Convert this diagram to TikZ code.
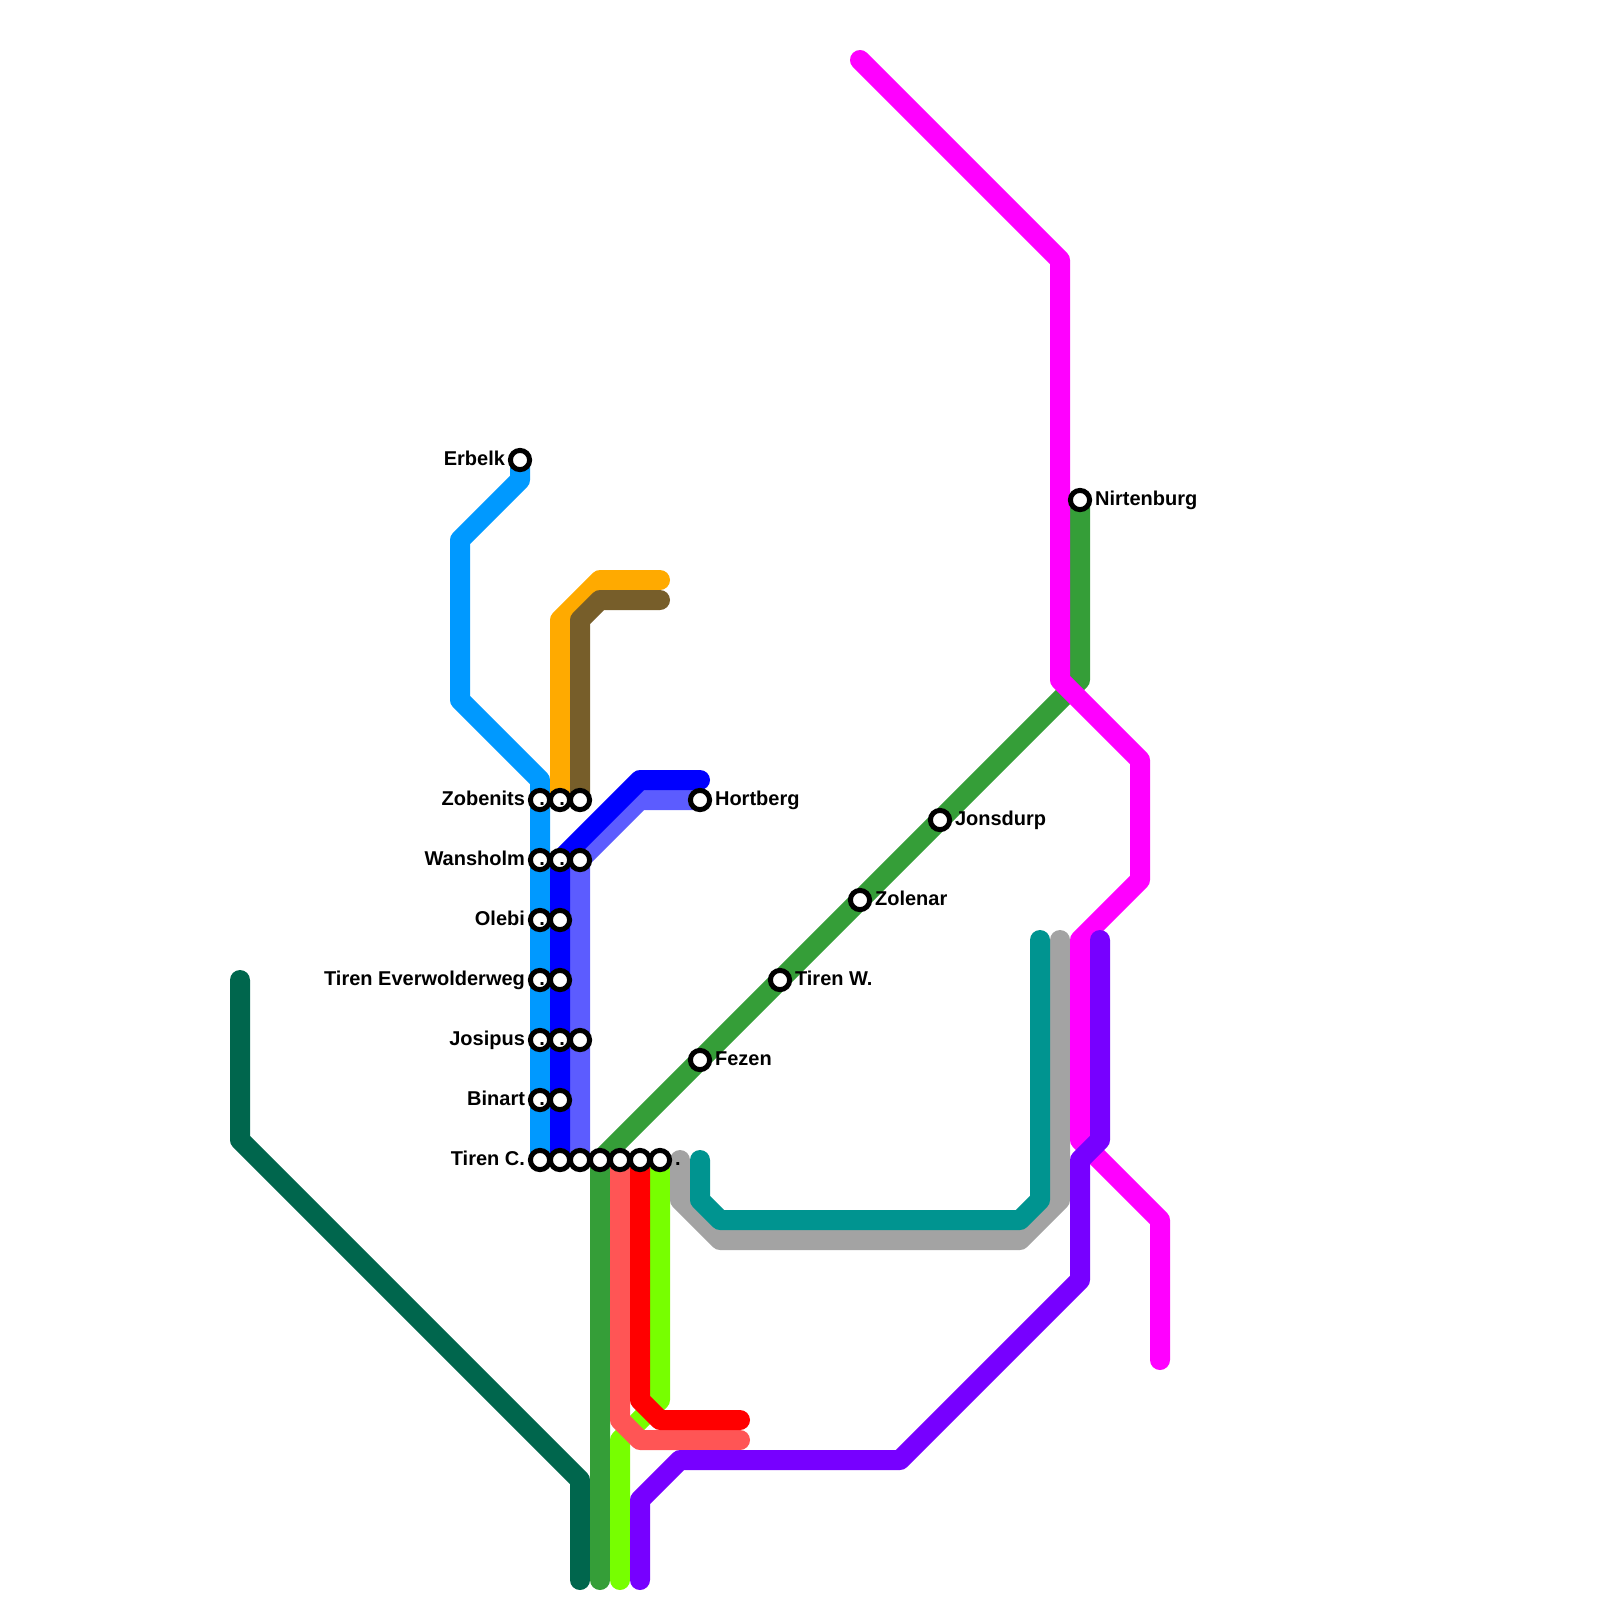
\documentclass[tikz,border=0pt]{standalone}
\usepackage{fontspec}
\setmainfont{Liberation Sans}
\usetikzlibrary{backgrounds}
\definecolor{mpSky}{RGB}{0,153,255}
\definecolor{mpOrange}{RGB}{255,170,0}
\definecolor{mpBrown}{RGB}{119,94,42}
\definecolor{mpBlue}{RGB}{0,0,255}
\definecolor{mpPeri}{RGB}{92,92,255}
\definecolor{mpGreen}{RGB}{53,158,56}
\definecolor{mpPine}{RGB}{0,102,77}
\definecolor{mpSalmon}{RGB}{255,85,85}
\definecolor{mpRed}{RGB}{255,0,0}
\definecolor{mpLime}{RGB}{119,255,0}
\definecolor{mpGrey}{RGB}{163,163,163}
\definecolor{mpTeal}{RGB}{0,148,144}
\definecolor{mpMagenta}{RGB}{255,0,255}
\definecolor{mpPurple}{RGB}{119,0,255}
\tikzset{
  metro/.style={line width=0.25cm,line cap=round,line join=round},
  stn/.style={circle,draw=black,fill=white,line width=0.0625cm,minimum size=0.24cm,inner sep=0pt,outer sep=0pt},
  lblL/.style={anchor=base east,inner sep=0pt,xshift=-0.18125cm,yshift=-0.0625cm},
  lblR/.style={anchor=base west,inner sep=0pt,xshift=0.18125cm,yshift=-0.0625cm}
}

\begin{document}
\begin{tikzpicture}[x=0.25cm,y=-0.25cm,font=\bfseries\fontsize{7.113}{8.5}\selectfont]
        \useasboundingbox (0,0) rectangle (80,80);
        \node[stn] (erbelk) at (26,23) {};
        \node[stn] (nirtenburg) at (54,25) {};
        \node[stn] (zobenits) at (27,40) {};
        \node[stn] (wansholm) at (27,43) {};
        \node[stn] (olebi) at (27,46) {};
        \node[stn] (everwold) at (27,49) {};
        \node[stn] (josipus) at (27,52) {};
        \node[stn] (binart) at (27,55) {};
        \node[stn] (tirenc) at (27,58) {};
        \node[stn] (zobenitsB) at (28,40) {};
        \node[stn] (wansholmB) at (28,43) {};
        \node[stn] (olebiB) at (28,46) {};
        \node[stn] (everwoldB) at (28,49) {};
        \node[stn] (josipusB) at (28,52) {};
        \node[stn] (binartB) at (28,55) {};
        \node[stn] (tirencB) at (28,58) {};
        \node[stn] (zobenitsC) at (29,40) {};
        \node[stn] (wansholmC) at (29,43) {};
        \node[stn] (josipusC) at (29,52) {};
        \node[stn] (tirencC) at (29,58) {};
        \node[stn] (tirencD) at (30,58) {};
        \node[stn] (tirencE) at (31,58) {};
        \node[stn] (tirencF) at (32,58) {};
        \node[stn] (tirencG) at (33,58) {};
        \node[stn] (hortberg) at (35,40) {};
        \node[stn] (fezen) at (35,53) {};
        \node[stn] (tirenw) at (39,49) {};
        \node[stn] (zolenar) at (43,45) {};
        \node[stn] (jonsdurp) at (47,41) {};
        \node[lblL] (erbelkLbl) at (erbelk.center) {Erbelk};
        \node[lblR] (nirtenburgLbl) at (nirtenburg.center) {Nirtenburg};
        \node[lblL] (zobenitsLbl) at (zobenits.center) {Zobenits};
        \node[lblL] (wansholmLbl) at (wansholm.center) {Wansholm};
        \node[lblL] (olebiLbl) at (olebi.center) {Olebi};
        \node[lblL] (everwoldLbl) at (everwold.center) {Tiren Everwolderweg};
        \node[lblL] (josipusLbl) at (josipus.center) {Josipus};
        \node[lblL] (binartLbl) at (binart.center) {Binart};
        \node[lblL] (tirencLbl) at (tirenc.center) {Tiren C.};
        \node[lblR] (hortbergLbl) at (hortberg.center) {Hortberg};
        \node[lblR] (fezenLbl) at (fezen.center) {Fezen};
        \node[lblR] (tirenwLbl) at (tirenw.center) {Tiren W.};
        \node[lblR] (zolenarLbl) at (zolenar.center) {Zolenar};
        \node[lblR] (jonsdurpLbl) at (jonsdurp.center) {Jonsdurp};
        \node[lblL] (zobenitsDotB) at (zobenitsB.center) {.};
        \node[lblL] (wansholmDotB) at (wansholmB.center) {.};
        \node[lblL] (olebiDotB) at (olebiB.center) {.};
        \node[lblL] (everwoldDotB) at (everwoldB.center) {.};
        \node[lblL] (josipusDotB) at (josipusB.center) {.};
        \node[lblL] (binartDotB) at (binartB.center) {.};
        \node[lblL] (zobenitsDotC) at (zobenitsC.center) {.};
        \node[lblL] (wansholmDotC) at (wansholmC.center) {.};
        \node[lblL] (josipusDotC) at (josipusC.center) {.};
        \node[lblR] (tirencDotG) at (tirencG.center) {.};
        \begin{scope}[on background layer]
          \draw[metro,mpPine] (12,49) -- (12,57) -- (29,74) -- (29,79);
          \draw[metro,mpSky] (erbelk.center) -- (26,24) -- (23,27) -- (23,35) -- (27,39) -- (tirenc.center);
          \draw[metro,mpOrange] (zobenitsB.center) -- (28,31) -- (30,29) -- (33,29);
          \draw[metro,mpBrown] (zobenitsC.center) -- (29,31) -- (30,30) -- (33,30);
          \draw[metro,mpPeri] (tirencC.center) -- (wansholmC.center) -- (32,40) -- (hortberg.center);
          \draw[metro,mpBlue] (tirencB.center) -- (wansholmB.center) -- (32,39) -- (35,39);
          \draw[metro,mpGreen] (30,79) -- (tirencD.center) -- (fezen.center) -- (tirenw.center)
            -- (zolenar.center) -- (jonsdurp.center) -- (54,34) -- (nirtenburg.center);
          \draw[metro,mpLime] (tirencG.center) -- (33,70) -- (31,72) -- (31,79);
          \draw[metro,mpSalmon] (tirencE.center) -- (31,71) -- (32,72) -- (37,72);
          \draw[metro,mpRed] (tirencF.center) -- (32,70) -- (33,71) -- (37,71);
          \draw[metro,mpGrey] (34,58) -- (34,60) -- (36,62) -- (51,62) -- (53,60) -- (53,47);
          \draw[metro,mpTeal] (35,58) -- (35,60) -- (36,61) -- (51,61) -- (52,60) -- (52,47);
          \draw[metro,mpMagenta] (43,3) -- (53,13) -- (53,34) -- (57,38) -- (57,44) -- (54,47)
            -- (54,57) -- (58,61) -- (58,68);
          \draw[metro,mpPurple] (32,79) -- (32,75) -- (34,73) -- (45,73) -- (54,64) -- (54,58)
            -- (55,57) -- (55,47);
        \end{scope}
      \end{tikzpicture}
\end{document}
